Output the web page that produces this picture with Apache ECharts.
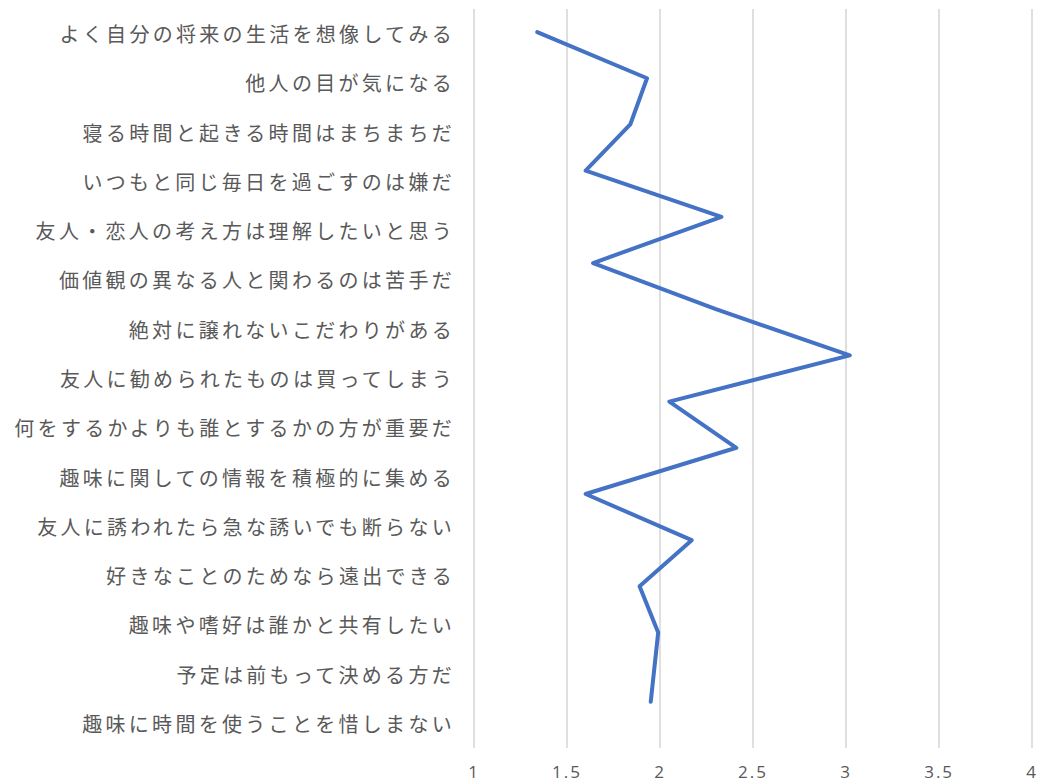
<!DOCTYPE html>
<html>
<head>
<meta charset="utf-8">
<script src="https://cdn.jsdelivr.net/npm/echarts@6/dist/echarts.min.js"></script>
<style>
  html, body { margin: 0; padding: 0; background: #ffffff; }
  #chart { width: 1040px; height: 783px; }
  #chart text { letter-spacing: 2px; }
  #chart text[style*="CJK"], #chart text[font-family*="CJK"] { letter-spacing: 3.3px; }
</style>
</head>
<body>
<div id="chart"></div>
<script>
// Categories (top to bottom)
const categories = [
  'よく自分の将来の生活を想像してみる',
  '他人の目が気になる',
  '寝る時間と起きる時間はまちまちだ',
  'いつもと同じ毎日を過ごすのは嫌だ',
  '友人・恋人の考え方は理解したいと思う',
  '価値観の異なる人と関わるのは苦手だ',
  '絶対に譲れないこだわりがある',
  '友人に勧められたものは買ってしまう',
  '何をするかよりも誰とするかの方が重要だ',
  '趣味に関しての情報を積極的に集める',
  '友人に誘われたら急な誘いでも断らない',
  '好きなことのためなら遠出できる',
  '趣味や嗜好は誰かと共有したい',
  '予定は前もって決める方だ',
  '趣味に時間を使うことを惜しまない'
];
// Line values (x)
const scoreValues = [1.34, 1.93, 1.84, 1.60, 2.33, 1.64, 2.30, 3.02, 2.05, 2.41, 1.60, 2.17, 1.89, 1.99, 1.95];
// Vertical row positions of the line's points (0 = top, 16 = bottom)
const rowPositions = [0.5, 1.5, 2.5, 3.5, 4.5, 5.5, 6.5, 7.5, 8.5, 9.5, 10.5, 11.5, 12.5, 13.5, 15];
// Value axis ticks
const xTicks = [1, 1.5, 2, 2.5, 3, 3.5, 4];

const chart = echarts.init(document.getElementById('chart'), null, { renderer: 'svg' });
const lineData = scoreValues.map((v, i) => [v, rowPositions[i]]);

chart.setOption({
  backgroundColor: '#ffffff',
  animation: false,
  grid: { left: 474, right: 6, top: 9, bottom: 35, containLabel: false },
  xAxis: {
    type: 'value',
    min: xTicks[0],
    max: xTicks[xTicks.length - 1],
    interval: 0.5,
    axisLine: { show: false },
    axisTick: { show: false },
    splitLine: { show: true, lineStyle: { color: '#d4d4d4', width: 1.5 } },
    axisLabel: {
      color: '#595959',
      fontSize: 17,
      fontFamily: 'Open Sans',
      margin: 15,
      formatter: v => String(v)
    }
  },
  yAxis: [
    {
      type: 'category',
      data: categories,
      inverse: true,
      boundaryGap: true,
      axisLine: { show: false },
      axisTick: { show: false },
      splitLine: { show: false },
      axisLabel: {
        interval: 0,
        color: '#595959',
        fontSize: 20,
        fontFamily: 'Noto Sans CJK JP',
        margin: 19
      }
    },
    {
      type: 'value',
      min: 0,
      max: 16,
      inverse: true,
      show: false,
      position: 'right'
    }
  ],
  series: [
    {
      type: 'line',
      yAxisIndex: 1,
      data: lineData,
      symbol: 'none',
      lineStyle: { color: '#4472C4', width: 4, cap: 'round', join: 'round' },
      itemStyle: { color: '#4472C4' }
    }
  ]
});
</script>
</body>
</html>
